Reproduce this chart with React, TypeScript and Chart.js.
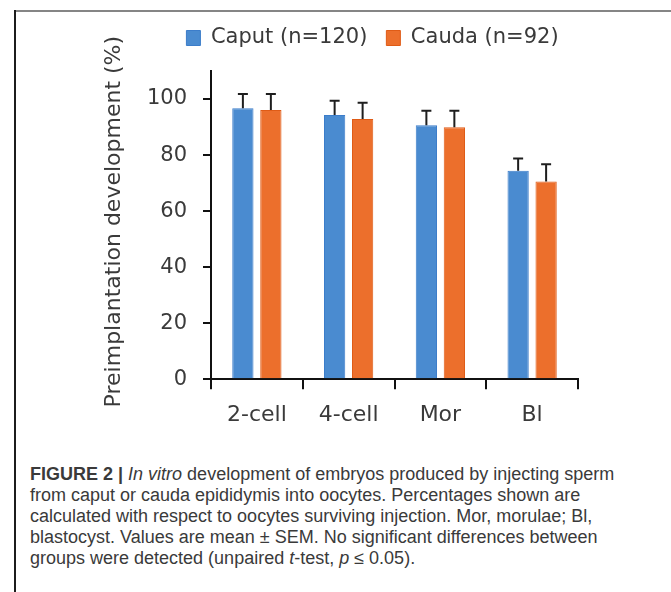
import React, { useEffect, useRef } from "react";
import { Chart, registerables } from "chart.js";

Chart.register(...registerables);

const categories = ["2-cell", "4-cell", "Mor", "Bl"];
const caputLabel = "Caput (n=120)";
const caudaLabel = "Cauda (n=92)";
const caputValues = [96.7, 94.3, 90.6, 74.4];
const caputSem = [5.1, 5.1, 5.2, 4.4];
const caudaValues = [96.1, 92.9, 89.9, 70.6];
const caudaSem = [5.7, 5.8, 5.9, 6.1];
const yTicks = [0, 20, 40, 60, 80, 100];
const yMax = 110;
const yTitle = "Preimplantation development (%)";

const FONT = "'DejaVu Sans', Verdana, sans-serif";
const TEXT = "#3a3a3a";

const errorBars = {
  id: "errorBars",
  afterDatasetsDraw(chart: any) {
    const { ctx } = chart;
    const yScale = chart.scales.y;
    const sems = [caputSem, caudaSem];
    chart.data.datasets.forEach((ds: any, di: number) => {
      const meta = chart.getDatasetMeta(di);
      meta.data.forEach((bar: any, i: number) => {
        const v = ds.data[i];
        const top = yScale.getPixelForValue(v + sems[di][i]);
        ctx.save();
        ctx.strokeStyle = "#1e1e1e";
        ctx.lineWidth = 2;
        ctx.beginPath();
        ctx.moveTo(bar.x, bar.y);
        ctx.lineTo(bar.x, top);
        ctx.moveTo(bar.x - 5, top);
        ctx.lineTo(bar.x + 5, top);
        ctx.stroke();
        ctx.restore();
      });
    });
  },
};

const axisTitle = {
  id: "axisTitle",
  afterDraw(chart: any) {
    const { ctx, chartArea } = chart;
    ctx.save();
    ctx.translate(chartArea.left - 97, (chartArea.top + chartArea.bottom) / 2 - 3.5);
    ctx.rotate(-Math.PI / 2);
    ctx.font = `22px ${FONT}`;
    ctx.fillStyle = TEXT;
    ctx.textAlign = "center";
    ctx.textBaseline = "middle";
    ctx.fillText(yTitle, 0, 0);
    ctx.restore();
  },
};

const legendPlacement = {
  id: "legendPlacement",
  beforeInit(chart: any) {
    const legend = chart.legend;
    if (!legend) return;
    const fit = legend.fit;
    legend.fit = function () {
      fit.call(this);
      this.height += 12.5;
    };
  },
  afterLayout(chart: any) {
    const legend = chart.legend;
    if (!legend) return;
    // centre the legend over the region used in the original figure
    legend.left += 37;
  },
};

export default function App() {
  const ref = useRef<HTMLCanvasElement | null>(null);

  useEffect(() => {
    if (!ref.current) return;
    const chart = new Chart(ref.current, {
      type: "bar",
      data: {
        labels: categories,
        datasets: [
          {
            label: caputLabel,
            data: caputValues,
            backgroundColor: "#4a8bd0",
            borderColor: "#3c7dca",
            borderWidth: 1,
            categoryPercentage: 0.61,
            barPercentage: 0.76,
          },
          {
            label: caudaLabel,
            data: caudaValues,
            backgroundColor: "#ec6f2c",
            borderColor: "#df5b16",
            borderWidth: 1,
            categoryPercentage: 0.61,
            barPercentage: 0.76,
          },
        ],
      },
      options: {
        responsive: false,
        animation: false,
        layout: { padding: { left: 130, right: 93, top: 8.5, bottom: 10.7 } },
        plugins: {
          legend: {
            position: "top",
            labels: {
              boxWidth: 14,
              boxHeight: 15,
              padding: 19,
              color: TEXT,
              font: { family: FONT, size: 21 },
            },
          },
          tooltip: { enabled: false },
        },
        scales: {
          x: {
            grid: {
              display: true,
              drawOnChartArea: false,
              drawTicks: true,
              tickLength: 10,
              color: "#111",
              lineWidth: 2,
              offset: true,
            },
            border: { display: true, color: "#111", width: 2 },
            ticks: {
              color: TEXT,
              padding: 13,
              font: { family: FONT, size: 22 },
            },
            afterFit(scale: any) {
              scale.height = 60;
            },
          },
          y: {
            min: 0,
            max: yMax,
            afterBuildTicks(scale: any) {
              scale.ticks = yTicks.map((v) => ({ value: v }));
            },
            grid: {
              display: true,
              drawOnChartArea: false,
              drawTicks: true,
              tickLength: 8,
              color: "#111",
              lineWidth: 2,
            },
            border: { display: true, color: "#111", width: 2 },
            ticks: {
              color: TEXT,
              padding: 16,
              font: { family: FONT, size: 21 },
            },
            afterFit(scale: any) {
              scale.width = 81;
            },
          },
        },
      },
      plugins: [errorBars, axisTitle, legendPlacement],
    });
    return () => chart.destroy();
  }, []);

  return (
    <div
      style={{
        position: "absolute",
        left: 0,
        top: 0,
        width: 671,
        height: 592,
        overflow: "hidden",
        background: "#fff",
      }}
    >
      <div style={{ position: "absolute", left: 14, top: 10, width: 657, height: 2, background: "#858585" }} />
      <div style={{ position: "absolute", left: 14, top: 10, width: 2, height: 582, background: "#1c1c1c" }} />
      <canvas
        ref={ref}
        width={671}
        height={450}
        style={{ position: "absolute", left: 0, top: 0, width: 671, height: 450, display: "block" }}
      />
      <div
        style={{
          position: "absolute",
          left: 30,
          top: 464,
          whiteSpace: "nowrap",
          fontFamily: "'Liberation Sans', Arial, sans-serif",
          fontSize: 18,
          lineHeight: "21px",
          color: "#3a3a3a",
        }}
      >
        <b>FIGURE 2 |</b> <i>In vitro</i> development of embryos produced by injecting sperm
        <br />
        from caput or cauda epididymis into oocytes. Percentages shown are
        <br />
        calculated with respect to oocytes surviving injection. Mor, morulae; Bl,
        <br />
        blastocyst. Values are mean ± SEM. No significant differences between
        <br />
        groups were detected (unpaired <i>t</i>-test, <i>p</i> ≤ 0.05).
      </div>
    </div>
  );
}
